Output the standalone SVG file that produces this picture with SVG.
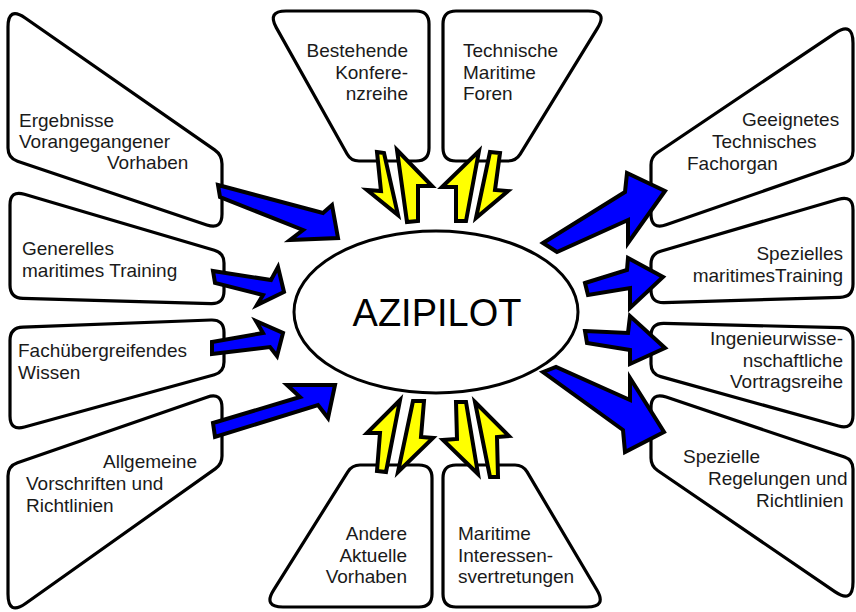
<svg xmlns="http://www.w3.org/2000/svg" width="856" height="612" viewBox="0 0 856 612">
<style>
.box{fill:#fff;stroke:#000;stroke-width:3.2;stroke-linejoin:round}
.t{font-family:"Liberation Sans",Arial,sans-serif;font-size:19px;fill:#1a1a1a}
.e{text-anchor:end}
.blue{fill:#0000ff;stroke:#000;stroke-width:4;stroke-linejoin:miter}
.yel{fill:#ffff00;stroke:#000;stroke-width:4;stroke-linejoin:miter}
</style>
<rect width="856" height="612" fill="#fff"/>
<g id="center">
<ellipse cx="436" cy="312" rx="142" ry="81" fill="#fff" stroke="#000" stroke-width="3"/>
<text x="437" y="326" font-family="Liberation Sans, Arial, sans-serif" font-size="38" text-anchor="middle" fill="#000">AZIPILOT</text>
</g>
<g id="n-ergebnisse">
<path class="box" d="M 8,27 Q 8,6 25.2,18 L 214.6,149.9 Q 222,155 222,164 L 222,214 Q 222,230 206.8,224.9 L 17.5,161.2 Q 8,158 8,148 Z"/>
<text class="t" x="19" y="127">Ergebnisse</text>
<text class="t" x="19" y="148">Vorangegangener</text>
<text class="t" x="107" y="169">Vorhaben</text>
</g>
<g id="n-generelles">
<path class="box" d="M 10,205 Q 10,190 24.4,194.2 L 214.4,250.2 Q 224,253 224,263 L 224,291 Q 224,304 211,303.6 L 23,298.4 Q 10,298 10,285 Z"/>
<text class="t" x="22" y="255">Generelles</text>
<text class="t" x="22" y="277">maritimes Training</text>
</g>
<g id="n-fachuebergreifend">
<path class="box" d="M 10,340.5 Q 10,327.5 23,327.1 L 211,320 Q 224,319.5 224,332.5 L 224,362 Q 224,372 214.4,374.7 L 24.5,427 Q 10,431 10,416 Z"/>
<text class="t" x="18" y="357">Fachübergreifendes</text>
<text class="t" x="18" y="379">Wissen</text>
</g>
<g id="n-allgemeine">
<path class="box" d="M 8,476 Q 8,466 17.5,462.7 L 206.9,397.2 Q 222,392 222,408 L 222,456 Q 222,464 215.5,468.6 L 25.9,603.3 Q 8,616 8,594 Z"/>
<text class="t" x="103" y="468">Allgemeine</text>
<text class="t" x="26" y="490">Vorschriften und</text>
<text class="t" x="26" y="512">Richtlinien</text>
</g>
<g id="n-bestehende">
<path class="box" d="M 276.3,27.6 Q 267,11 286,11 L 416,11 Q 429,11 429,24 L 429,148 Q 429,161 416,161 L 359,161 Q 351,161 347.1,154 Z"/>
<text class="t e" x="408" y="57">Bestehende</text>
<text class="t e" x="408" y="79">Konfere-</text>
<text class="t e" x="408" y="100">nzreihe</text>
</g>
<g id="n-technische">
<path class="box" d="M 443,24 Q 443,11 456,11 L 588,11 Q 608,11 597.5,28.1 L 520.2,154.2 Q 516,161 508,161 L 456,161 Q 443,161 443,148 Z"/>
<text class="t" x="463" y="57">Technische</text>
<text class="t" x="463" y="79">Maritime</text>
<text class="t" x="463" y="100">Foren</text>
</g>
<g id="n-geeignetes">
<path class="box" d="M 651,165 Q 651,157 657.6,152.5 L 834.8,33.3 Q 853,21 853,43 L 853,151 Q 853,160 844.5,162.9 L 666.1,224.8 Q 651,230 651,214 Z"/>
<text class="t" x="742" y="126">Geeignetes</text>
<text class="t" x="712" y="148">Technisches</text>
<text class="t" x="687" y="170">Fachorgan</text>
</g>
<g id="n-spezielles-training">
<path class="box" d="M 651,264 Q 651,254 660.6,251.2 L 838.6,199.2 Q 853,195 853,210 L 853,284 Q 853,297 840,297.3 L 664,302.7 Q 651,303 651,290 Z"/>
<text class="t e" x="843" y="260">Spezielles</text>
<text class="t e" x="843" y="282">maritimesTraining</text>
</g>
<g id="n-ingenieur">
<path class="box" d="M 651,336 Q 651,323 664,323.3 L 840,327.7 Q 853,328 853,341 L 853,415 Q 853,430 838.5,426 L 660.7,376.6 Q 651,374 651,364 Z"/>
<text class="t e" x="843" y="345">Ingenieurwisse-</text>
<text class="t e" x="843" y="367">nschaftliche</text>
<text class="t e" x="843" y="388">Vortragsreihe</text>
</g>
<g id="n-spezielle-regelungen">
<path class="box" d="M 651,408 Q 651,392 666.2,397.1 L 844.5,457.1 Q 853,460 853,469 L 853,582 Q 853,604 834.8,591.6 L 657.6,470.5 Q 651,466 651,458 Z"/>
<text class="t" x="683" y="463">Spezielle</text>
<text class="t" x="708" y="485">Regelungen und</text>
<text class="t" x="756" y="507">Richtlinien</text>
</g>
<g id="n-andere">
<path class="box" d="M 360,465 L 419,465 Q 432,465 432,478 L 432,594 Q 432,607 419,607 L 283,607 Q 263,607 273.6,590.1 L 347.8,471.8 Q 352,465 360,465 Z"/>
<text class="t e" x="407" y="540">Andere</text>
<text class="t e" x="407" y="562">Aktuelle</text>
<text class="t e" x="407" y="583">Vorhaben</text>
</g>
<g id="n-maritime-interessen">
<path class="box" d="M 443,478 Q 443,465 456,465 L 515,465 Q 523,465 527.1,471.9 L 596.8,589.8 Q 607,607 587,607 L 456,607 Q 443,607 443,594 Z"/>
<text class="t" x="458" y="540">Maritime</text>
<text class="t" x="458" y="562">Interessen-</text>
<text class="t" x="458" y="583">svertretungen</text>
</g>
<g id="connectors">
<polygon class="blue" points="218,185 323,213 332,205 338,238 290,240 303,230 220,197"/>
<polygon class="blue" points="213,271 271,280 278,267 284,292 257,305 263,295 215,283"/>
<polygon class="blue" points="212,342 263,333 256,321 283,333 277,356 270,347 212,354"/>
<polygon class="blue" points="213,423 300,397 287,385 335,385 328,418 318,405 215,437"/>
<polygon class="blue" points="543,243 625,192 627,173 665,191 628,243 628,220 557,252"/>
<polygon class="blue" points="585,283 627,270 628,258 663,277 630,308 630,288 588,295"/>
<polygon class="blue" points="585,331 628,333 630,316 665,348 630,364 630,350 587,343"/>
<polygon class="blue" points="543,372 556,367 630,400 630,378 664,432 625,452 623,430"/>
<polygon class="yel" points="377,152 384,153 398,215 367,190 381,191"/>
<polygon class="yel" points="397,150 432,186 418,186 418,221 407,222"/>
<polygon class="yel" points="479,151 466,221 456,221 456,187 442,187"/>
<polygon class="yel" points="490,152 500,153 495,190 508,191 476,218"/>
<polygon class="yel" points="400,400 386,472 377,471 380,433 367,433"/>
<polygon class="yel" points="413,401 424,401 421,437 433,438 398,472"/>
<polygon class="yel" points="456,402 466,402 478,474 443,440 457,439"/>
<polygon class="yel" points="475,402 509,436 497,437 498,477 490,477"/>
</g>
</svg>
